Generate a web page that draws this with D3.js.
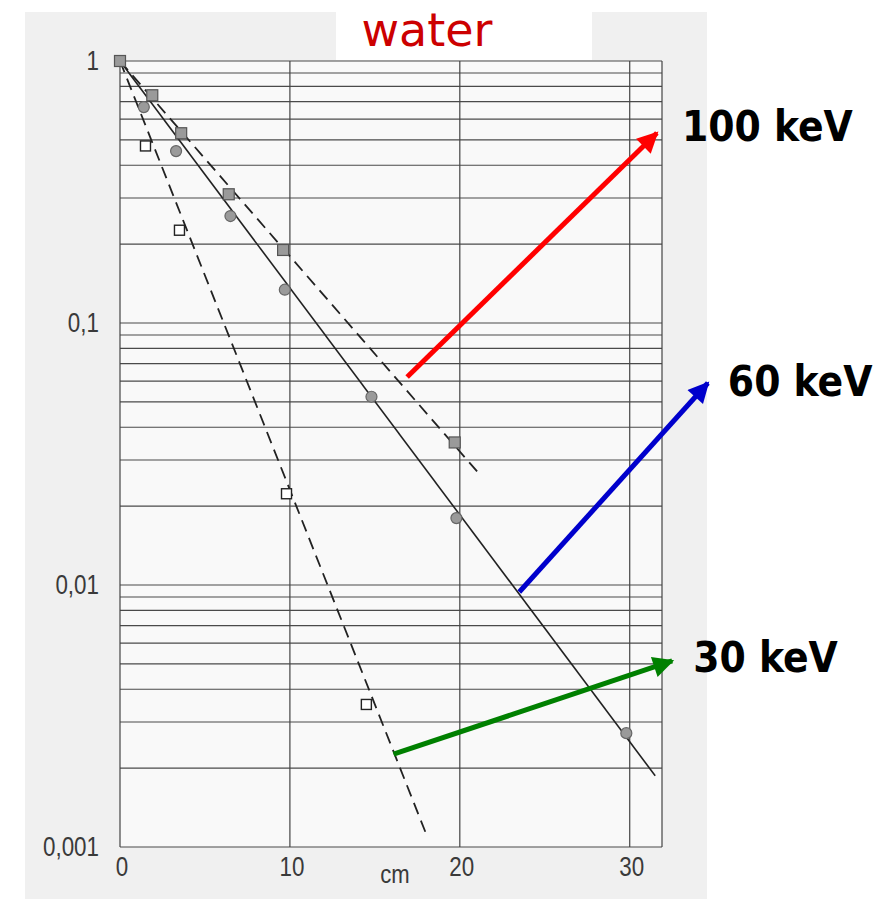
<!DOCTYPE html>
<html>
<head>
<meta charset="utf-8">
<script src="https://cdn.jsdelivr.net/npm/d3@7"></script>
<style>
  html, body { margin: 0; padding: 0; background: #fff; }
  svg { display: block; }
</style>
</head>
<body>
<div id="chart"></div>
<script>
// depth in water (cm) vs. relative intensity, three beam energies
const xTicks = [0, 10, 20, 30]
const yTickLabels = [[1, '1'], [0.1, '0,1'], [0.01, '0,01'], [0.001, '0,001']]

// 100 keV, filled squares, dashed fit
const depth100 = [0, 1.9, 3.6, 6.4, 9.6, 19.7]
const inten100 = [1, 0.74, 0.53, 0.31, 0.19, 0.035]
const fit100 = [[0, 1], [21.2, 0.0263]]

// 60 keV, circles, solid fit
const depth60 = [1.4, 3.3, 6.5, 9.7, 14.8, 19.8, 29.8]
const inten60 = [0.667, 0.453, 0.256, 0.134, 0.0523, 0.018, 0.00272]
const fit60 = [[0, 1], [31.5, 0.00187]]

// 30 keV, open squares, dashed fit
const depth30 = [1.5, 3.5, 9.8, 14.5]
const inten30 = [0.474, 0.226, 0.0223, 0.0035]
const fit30 = [[0, 1], [18.0, 0.00113]]

// annotation arrows (data coords: from -> to)
const arrows = [
    { label: '100 keV', color: '#ff0000', from: [16.9, 0.0622], to: [31.6, 0.531], dx: 25, dy: 8 },
    { label: '60 keV', color: '#0000cc', from: [23.5, 0.0094], to: [34.6, 0.059], dx: 20, dy: 13 },
    { label: '30 keV', color: '#008000', from: [16.1, 0.00226], to: [32.5, 0.00513], dx: 21, dy: 11 }
]

const width = 887, height = 899

const svg = d3.select('#chart').append('svg')
    .attr('width', width)
    .attr('height', height)

// scanned page background
svg.append('rect')
    .attr('x', 25).attr('y', 12)
    .attr('width', 682).attr('height', height - 12)
    .attr('fill', '#f0f0f0')

const x = d3.scaleLinear().domain([0, 31.9]).range([120, 662])
const y = d3.scaleLog().domain([0.001, 1]).range([847, 61])

svg.append('rect')
    .attr('x', x(0)).attr('y', y(1))
    .attr('width', x(31.9) - x(0)).attr('height', y(0.001) - y(1))
    .attr('fill', '#f9f9f9')

// horizontal log grid
const grid = svg.append('g')
grid.selectAll('line.h')
    .data(y.ticks())
    .enter()
    .append('line')
    .attr('class', 'h')
    .attr('x1', x(0)).attr('x2', x(31.9))
    .attr('y1', d => y(d)).attr('y2', d => y(d))
    .attr('stroke', '#4a4a4a')
    .attr('stroke-width', 1.2)

// vertical lines
grid.selectAll('line.v')
    .data(xTicks.concat([31.9]))
    .enter()
    .append('line')
    .attr('class', 'v')
    .attr('x1', d => x(d)).attr('x2', d => x(d))
    .attr('y1', y(1)).attr('y2', y(0.001))
    .attr('stroke', '#444')
    .attr('stroke-width', 1.2)

// tick labels (narrow grotesque, squeezed Liberation Sans)
const tickFont = "'Liberation Sans', Arial, sans-serif"
svg.append('g').selectAll('text')
    .data(yTickLabels)
    .enter()
    .append('text')
    .attr('transform', d => 'translate(99,' + (y(d[0]) + 2) + ') scale(0.8,1)')
    .attr('text-anchor', 'end')
    .attr('dominant-baseline', 'middle')
    .attr('font-family', tickFont)
    .attr('font-size', 28)
    .attr('fill', '#3a3a3a')
    .text(d => d[1])

svg.append('g').selectAll('text')
    .data(xTicks)
    .enter()
    .append('text')
    .attr('transform', d => 'translate(' + (x(d) + 2) + ',876) scale(0.8,1)')
    .attr('text-anchor', 'middle')
    .attr('font-family', tickFont)
    .attr('font-size', 28)
    .attr('fill', '#3a3a3a')
    .text(d => d)

svg.append('text')
    .attr('transform', 'translate(395,883) scale(0.85,1)')
    .attr('text-anchor', 'middle')
    .attr('font-family', tickFont)
    .attr('font-size', 26)
    .attr('fill', '#3a3a3a')
    .text('cm')

// fit lines
const line = d3.line().x(d => x(d[0])).y(d => y(d[1]))
svg.append('path').datum(fit100)
    .attr('d', line)
    .attr('fill', 'none').attr('stroke', '#222')
    .attr('stroke-width', 1.8).attr('stroke-dasharray', '12,7')
svg.append('path').datum(fit60)
    .attr('d', line)
    .attr('fill', 'none').attr('stroke', '#222')
    .attr('stroke-width', 1.6)
svg.append('path').datum(fit30)
    .attr('d', line)
    .attr('fill', 'none').attr('stroke', '#222')
    .attr('stroke-width', 1.8).attr('stroke-dasharray', '12,7')

// markers
const pts = (xs, ys) => xs.map((d, i) => [d, ys[i]])

svg.append('g').selectAll('rect')
    .data(pts(depth100, inten100))
    .enter()
    .append('rect')
    .attr('x', d => x(d[0]) - 5.5).attr('y', d => y(d[1]) - 5.5)
    .attr('width', 11).attr('height', 11)
    .attr('fill', '#9a9a9a').attr('stroke', '#555').attr('stroke-width', 1.2)

svg.append('g').selectAll('circle')
    .data(pts(depth60, inten60))
    .enter()
    .append('circle')
    .attr('cx', d => x(d[0])).attr('cy', d => y(d[1]))
    .attr('r', 5.5)
    .attr('fill', '#9a9a9a').attr('stroke', '#666').attr('stroke-width', 1.2)

svg.append('g').selectAll('rect')
    .data(pts(depth30, inten30))
    .enter()
    .append('rect')
    .attr('x', d => x(d[0]) - 5).attr('y', d => y(d[1]) - 5)
    .attr('width', 10).attr('height', 10)
    .attr('fill', '#fff').attr('stroke', '#222').attr('stroke-width', 1.4)

// title box
svg.append('rect')
    .attr('x', 336).attr('y', 0)
    .attr('width', 256).attr('height', 60)
    .attr('fill', '#fff')
svg.append('text')
    .attr('x', 427).attr('y', 46)
    .attr('text-anchor', 'middle')
    .attr('font-family', "'DejaVu Sans', sans-serif")
    .attr('font-size', 46)
    .attr('fill', '#cc0000')
    .text('water')

// arrows
const defs = svg.append('defs')
arrows.forEach((a, i) => {
    defs.append('marker')
        .attr('id', 'head' + i)
        .attr('viewBox', '0 -5 10 10')
        .attr('refX', 9).attr('refY', 0)
        .attr('markerWidth', 4.6).attr('markerHeight', 4.2)
        .attr('markerUnits', 'strokeWidth')
        .attr('orient', 'auto')
        .append('path')
        .attr('d', 'M0,-5L10,0L0,5Z')
        .attr('fill', a.color)
})

const ann = svg.append('g')
arrows.forEach((a, i) => {
    ann.append('line')
        .attr('x1', x(a.from[0])).attr('y1', y(a.from[1]))
        .attr('x2', x(a.to[0])).attr('y2', y(a.to[1]))
        .attr('stroke', a.color)
        .attr('stroke-width', 5)
        .attr('marker-end', 'url(#head' + i + ')')
    ann.append('text')
        .attr('x', x(a.to[0]) + a.dx)
        .attr('y', y(a.to[1]) + a.dy)
        .attr('font-family', "'DejaVu Sans Condensed', 'DejaVu Sans', sans-serif")
        .attr('font-weight', 'bold')
        .attr('font-size', 42)
        .attr('fill', '#000')
        .text(a.label)
})
</script>
</body>
</html>
